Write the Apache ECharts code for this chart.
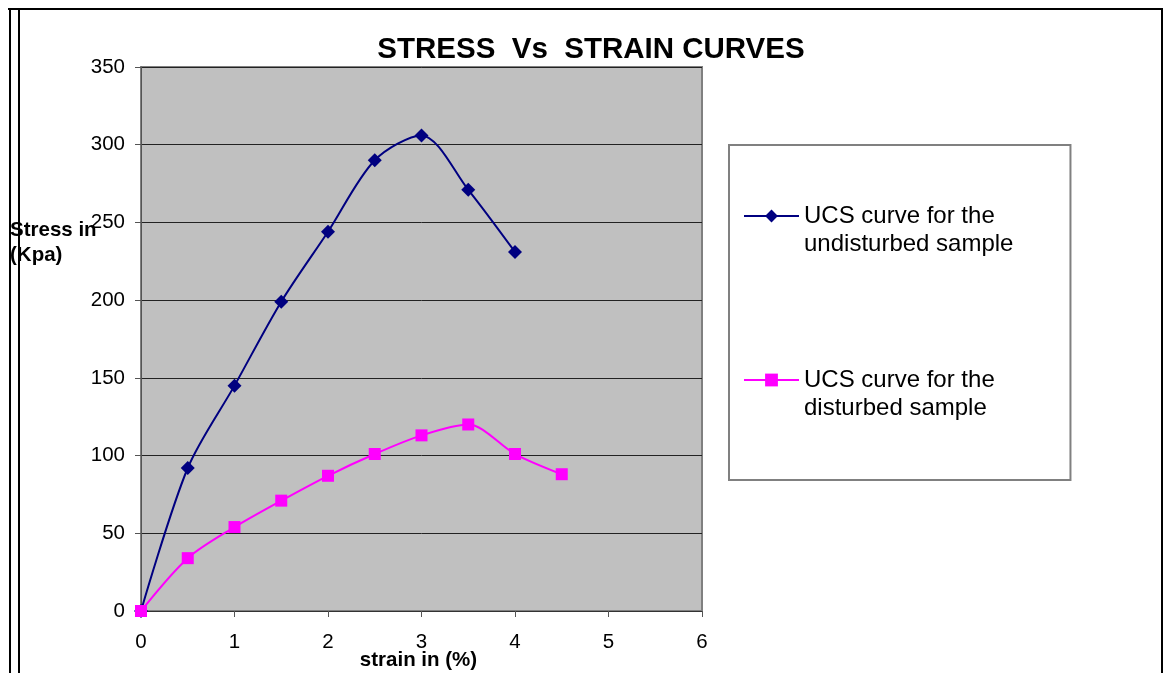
<!DOCTYPE html>
<html>
<head>
<meta charset="utf-8">
<script src="https://cdn.jsdelivr.net/npm/echarts@6/dist/echarts.min.js"></script>
<style>
html, body { margin: 0; padding: 0; background: #fff; }
#myChart { width: 1165px; height: 673px; }
</style>
</head>
<body>
<div id="myChart"></div>
<script>
// data
let strain = [0, 0.5, 1, 1.5, 2, 2.5, 3, 3.5, 4, 4.5]
let undisturbed = [0, 92, 145, 199, 244, 290, 306, 271, 231]
let disturbed = [0, 34, 54, 71, 87, 101, 113, 120, 101, 88]
let seriesNames = ['UCS curve for the\nundisturbed sample', 'UCS curve for the\ndisturbed sample']

function pairs(values) {
    return values.map((v, i) => [strain[i], v])
}

let myChart = echarts.init(document.getElementById('myChart'))
let font = 'Arial, "Liberation Sans", Helvetica, sans-serif'

let option = {
    animation: false,
    textStyle: { fontFamily: font },
    title: {
        text: 'STRESS  Vs  STRAIN CURVES',
        left: 586,
        top: 30,
        textAlign: 'center',
        textStyle: { fontSize: 29.5, fontWeight: 'bold', color: '#000', fontFamily: font }
    },
    grid: {
        left: 141,
        top: 67,
        width: 561,
        height: 544,
        outerBoundsMode: 'none',
        containLabel: false,
        show: true,
        backgroundColor: '#c0c0c0',
        borderColor: '#808080',
        borderWidth: 2
    },
    xAxis: {
        type: 'value',
        min: 0,
        max: 6,
        interval: 1,
        name: 'strain in (%)',
        nameLocation: 'middle',
        nameGap: 39,
        nameMoveOverlap: false,
        nameTextStyle: { fontSize: 20.5, fontWeight: 'bold', color: '#000', padding: [0, 0, 0, -6] },
        axisLine: { show: true, lineStyle: { color: '#333', width: 1 } },
        axisTick: { show: true, inside: false, length: 6, lineStyle: { color: '#555' } },
        axisLabel: { fontSize: 20.5, color: '#000', margin: 21 },
        splitLine: { show: false }
    },
    yAxis: {
        type: 'value',
        min: 0,
        max: 350,
        interval: 50,
        axisLine: { show: true, lineStyle: { color: '#555', width: 1 } },
        axisTick: { show: true, inside: false, length: 6, lineStyle: { color: '#555' } },
        axisLabel: { fontSize: 20.5, color: '#000', margin: 16 },
        splitLine: { show: true, lineStyle: { color: '#222', width: 1 } }
    },
    legend: {
        orient: 'vertical',
        left: 729,
        top: 145,
        padding: [29, 57, 58, 14],
        itemGap: 80,
        itemWidth: 55,
        itemHeight: 16,
        backgroundColor: '#fff',
        borderColor: '#808080',
        borderWidth: 2,
        // blank first line keeps the marker level with the first text line
        formatter: name => ' \n' + name,
        textStyle: {
            fontSize: 24,
            color: '#000',
            lineHeight: 28,
            fontFamily: font
        }
    },
    graphic: [
        { type: 'rect', shape: { x: 8, y: 8, width: 1155, height: 2 }, style: { fill: '#000' }, silent: true },
        { type: 'rect', shape: { x: 9, y: 8, width: 2, height: 665 }, style: { fill: '#000' }, silent: true },
        { type: 'rect', shape: { x: 18, y: 8, width: 2, height: 665 }, style: { fill: '#000' }, silent: true },
        { type: 'rect', shape: { x: 1161, y: 8, width: 2, height: 665 }, style: { fill: '#000' }, silent: true },
        {
            type: 'text',
            left: 10,
            top: 218,
            style: {
                text: 'Stress in\n(Kpa)',
                font: 'bold 20.5px ' + font,
                fill: '#000',
                lineHeight: 25
            },
            z: 100
        }
    ],
    series: [
        {
            name: seriesNames[0],
            type: 'line',
            smooth: 0.3,
            data: pairs(undisturbed),
            symbol: 'diamond',
            symbolSize: 14,
            lineStyle: { color: '#000080', width: 2 },
            itemStyle: { color: '#000080' }
        },
        {
            name: seriesNames[1],
            type: 'line',
            smooth: 0.3,
            data: pairs(disturbed),
            symbol: 'rect',
            symbolSize: 12,
            lineStyle: { color: '#ff00ff', width: 2 },
            itemStyle: { color: '#ff00ff' }
        }
    ]
}
myChart.setOption(option)
</script>
</body>
</html>
